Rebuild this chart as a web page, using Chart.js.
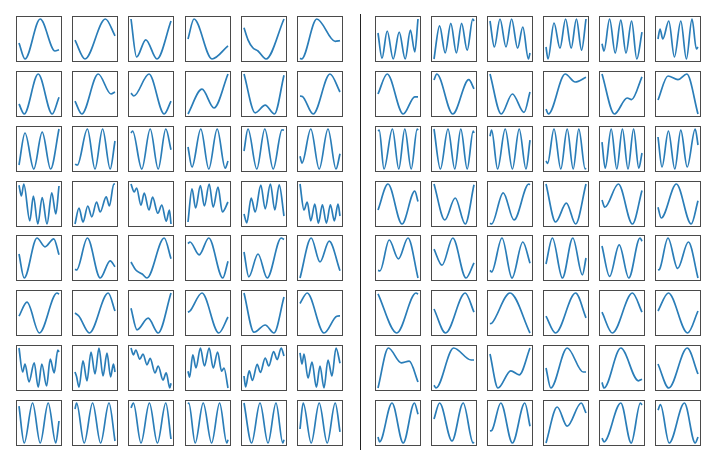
<!DOCTYPE html>
<html>
<head>
<meta charset="utf-8">
<script src="https://cdn.jsdelivr.net/npm/chart.js@4/dist/chart.umd.min.js"></script>
<style>
  html, body { margin: 0; padding: 0; background: #fff; }
  #fig { position: relative; width: 716px; height: 462px; overflow: hidden; }
  .ax { position: absolute; box-sizing: border-box; width: 46px; height: 46px; border: 1px solid #4a4a4a; }
  .ax canvas { display: block; }
  #divider { position: absolute; left: 360px; top: 14px; width: 1px; height: 436px; background: #222; }
</style>
</head>
<body>
<div id="fig"><div id="divider"></div></div>
<script>
// each curve: knots [x, y], x and y normalised to 0..1
// left panel, rows top to bottom
const left1 = [
  [[0,0.4],[0.15,0],[0.53,1],[0.9,0.2],[1,0.23]],
  [[0,0.47],[0.25,0],[0.76,1],[1,0.58]],
  [[0,1],[0.14,0.05],[0.37,0.48],[0.65,0],[1,0.95]],
  [[0,0.5],[0.15,1],[0.6,0],[1,0.33]],
  [[0,0.78],[0.1,0.48],[0.22,0.28],[0.35,0.2],[0.55,0],[1,1]],
  [[0,0.02],[0.04,0],[0.42,1],[0.88,0.44],[1,0.46]]
];
const left2 = [
  [[0,0.25],[0.13,0],[0.48,1],[0.83,0],[1,0.42]],
  [[0,0.32],[0.17,0],[0.58,1],[0.9,0.5],[1,0.55]],
  [[0,0.52],[0.07,0.45],[0.45,1],[0.83,0],[1,0.32]],
  [[0,0],[0.35,0.62],[0.65,0.15],[1,1]],
  [[0,1],[0.28,0.03],[0.53,0.22],[0.76,0],[1,0.97]],
  [[0,0.45],[0.06,0.44],[0.33,0],[0.75,1],[1,0.55]]
];
const left3 = [
  [[0,0.1],[0.15,0.9],[0.37,0],[0.58,0.92],[0.79,0],[1,1]],
  [[0,0.12],[0.06,0.1],[0.31,1],[0.5,0],[0.69,1],[0.88,0],[1,0.7]],
  [[0,0.9],[0.04,0.95],[0.27,0],[0.48,1],[0.68,0],[0.87,1],[1,0.48]],
  [[0,0.55],[0.1,0.05],[0.32,1],[0.52,0],[0.73,1],[0.93,0.02],[1,0.2]],
  [[0,0.45],[0.1,1],[0.32,0],[0.52,1],[0.73,0],[0.95,0.98],[1,0.97]],
  [[0,0.32],[0.05,0.15],[0.27,1],[0.48,0],[0.7,1],[0.9,0],[1,0.38]]
];
const left4 = [
  [[0,0.97],[0.06,0.7],[0.12,1],[0.27,0.08],[0.36,0.7],[0.47,0],[0.58,0.66],[0.7,0],[0.82,0.78],[0.92,0.25],[1,0.95]],
  [[0,0],[0.1,0.4],[0.2,0.05],[0.32,0.45],[0.42,0.18],[0.54,0.55],[0.63,0.3],[0.78,0.68],[0.86,0.45],[0.97,1],[1,1]],
  [[0,1],[0.08,0.8],[0.14,0.9],[0.25,0.47],[0.33,0.77],[0.45,0.35],[0.54,0.67],[0.67,0.27],[0.77,0.47],[0.88,0.07],[0.96,0.35],[1,0]],
  [[0,0.05],[0.1,0.88],[0.19,0.4],[0.31,0.96],[0.41,0.45],[0.53,1],[0.63,0.42],[0.75,0.92],[0.86,0.3],[1,0.55]],
  [[0,0.25],[0.07,0.03],[0.18,0.65],[0.28,0.3],[0.42,0.97],[0.53,0.38],[0.66,1],[0.77,0.35],[0.88,0.98],[1,0.2]],
  [[0,1],[0.1,0.35],[0.18,0.55],[0.27,0.08],[0.37,0.5],[0.46,0.02],[0.56,0.48],[0.66,0.02],[0.76,0.48],[0.86,0.08],[0.95,0.5],[1,0.2]]
];
const left5 = [
  [[0,0.6],[0.13,0],[0.45,1],[0.65,0.78],[0.87,0.98],[1,0.58]],
  [[0,0.22],[0.04,0.2],[0.31,1],[0.63,0],[0.88,0.43],[1,0.28]],
  [[0,0.4],[0.12,0.2],[0.28,0.1],[0.4,0],[0.83,1],[1,0.48]],
  [[0,0.86],[0.05,0.9],[0.28,0.58],[0.52,1],[0.87,0],[1,0.42]],
  [[0,0.65],[0.12,0.03],[0.35,0.6],[0.58,0],[0.93,1],[1,0.96]],
  [[0,0],[0.28,1],[0.5,0.4],[0.73,0.92],[1,0.18]]
];
const left6 = [
  [[0,0.42],[0.2,0.77],[0.51,0],[0.95,1],[1,0.97]],
  [[0,0.5],[0.1,0.42],[0.36,0],[0.83,1],[1,0.55]],
  [[0,0.62],[0.15,0.08],[0.43,0.37],[0.68,0],[1,1]],
  [[0,0.52],[0.05,0.55],[0.35,1],[0.77,0],[1,0.4]],
  [[0,1],[0.25,0.02],[0.53,0.2],[0.75,0],[1,0.9]],
  [[0,0.74],[0.18,1],[0.6,0],[0.92,0.42],[1,0.43]]
];
const left7 = [
  [[0,1],[0.09,0.4],[0.15,0.6],[0.25,0.15],[0.38,0.63],[0.48,0.02],[0.57,0.6],[0.69,0.05],[0.78,0.72],[0.88,0.38],[0.97,0.95],[1,0.9]],
  [[0,0.4],[0.04,0.28],[0.1,0.02],[0.2,0.68],[0.3,0.18],[0.4,0.9],[0.5,0.35],[0.6,1],[0.7,0.3],[0.8,0.87],[0.89,0.28],[0.96,0.6],[1,0.4]],
  [[0,1],[0.06,0.83],[0.12,0.95],[0.22,0.72],[0.3,0.85],[0.4,0.58],[0.48,0.74],[0.6,0.38],[0.68,0.55],[0.8,0.2],[0.88,0.38],[0.97,0],[1,0.12]],
  [[0,0.42],[0.04,0.27],[0.12,0.83],[0.2,0.5],[0.31,1],[0.41,0.55],[0.53,1],[0.63,0.5],[0.74,0.9],[0.84,0.42],[0.9,0.5],[1,0]],
  [[0,0.3],[0.04,0.03],[0.13,0.43],[0.21,0.19],[0.33,0.59],[0.41,0.39],[0.53,0.75],[0.62,0.55],[0.74,0.91],[0.83,0.71],[0.93,1],[1,0.8]],
  [[0,0.88],[0.05,0.6],[0.1,0.85],[0.2,0.25],[0.3,0.65],[0.41,0.02],[0.5,0.55],[0.6,0],[0.7,0.7],[0.8,0.3],[0.9,1],[1,0.62]]
];
const left8 = [
  [[0,0.92],[0.13,0],[0.34,1],[0.53,0],[0.73,1],[0.92,0],[1,0.55]],
  [[0,0.85],[0.04,1],[0.23,0],[0.44,1],[0.64,0],[0.85,1],[1,0.05]],
  [[0,0.88],[0.06,1],[0.25,0],[0.46,1],[0.66,0],[0.87,1],[1,0.1]],
  [[0,0.98],[0.02,1],[0.18,0],[0.38,1],[0.59,0],[0.79,1],[0.97,0],[1,0.08]],
  [[0,1],[0.19,0],[0.4,1],[0.6,0],[0.8,1],[0.97,0],[1,0.08]],
  [[0,0.35],[0.08,1],[0.28,0],[0.48,1],[0.68,0],[0.88,1],[1,0.28]]
];

// right panel, rows top to bottom
const right1 = [
  [[0,0.65],[0.1,0.02],[0.23,0.7],[0.38,0],[0.53,0.67],[0.68,0],[0.81,0.72],[0.92,0.18],[1,1]],
  [[0,0],[0.14,0.83],[0.28,0.15],[0.42,0.89],[0.56,0.15],[0.69,0.89],[0.83,0.22],[0.97,1],[1,0.95]],
  [[0,0.95],[0.11,0.3],[0.25,1],[0.4,0.3],[0.54,1],[0.69,0.27],[0.82,0.8],[0.96,0],[1,0.15]],
  [[0,0.3],[0.05,0],[0.2,0.9],[0.35,0.27],[0.49,1],[0.63,0.27],[0.76,1],[0.89,0.22],[1,1]],
  [[0,0.38],[0.05,0.2],[0.19,1],[0.33,0.15],[0.47,0.97],[0.6,0.15],[0.74,0.95],[0.87,0],[1,0.67]],
  [[0,0.5],[0.05,0.75],[0.12,0.5],[0.27,0.95],[0.41,0.05],[0.57,0.95],[0.71,0],[0.85,1],[0.96,0.25],[1,0.3]]
];
const right2 = [
  [[0,0.5],[0.23,1],[0.63,0],[0.92,0.43],[1,0.43]],
  [[0,0.85],[0.07,1],[0.47,0],[0.87,0.86],[1,0.63]],
  [[0,1],[0.28,0],[0.56,0.5],[0.85,0.04],[1,0.55]],
  [[0,0.12],[0.06,0],[0.48,1],[0.73,0.8],[1,0.92]],
  [[0,1],[0.31,0],[0.63,0.4],[0.74,0.36],[1,0.93]],
  [[0,0.35],[0.25,0.95],[0.5,0.86],[0.72,1],[1,0]]
];
const right3 = [
  [[0,0.95],[0.03,0.97],[0.15,0],[0.36,1],[0.52,0],[0.67,1],[0.83,0],[0.98,1],[1,0.97]],
  [[0,1],[0.16,0],[0.35,1],[0.52,0],[0.67,1],[0.83,0],[0.98,0.95],[1,0.9]],
  [[0,0.82],[0.04,0.97],[0.19,0],[0.38,1],[0.56,0],[0.73,1],[0.9,0],[1,0.72]],
  [[0,0.2],[0.04,0.14],[0.2,1],[0.37,0],[0.53,1],[0.68,0],[0.82,1],[0.98,0],[1,0.02]],
  [[0,0.67],[0.08,0.02],[0.23,1],[0.37,0],[0.51,1],[0.65,0],[0.79,1],[0.92,0.02],[1,0.4]],
  [[0,0.8],[0.1,0.05],[0.26,0.95],[0.42,0],[0.57,0.97],[0.73,0.05],[0.93,1],[1,0.6]]
];
const right4 = [
  [[0,0.35],[0.25,1],[0.6,0],[0.92,0.82],[1,0.56]],
  [[0,1],[0.27,0.1],[0.53,0.65],[0.78,0],[1,0.98]],
  [[0,0.02],[0.04,0],[0.33,0.78],[0.6,0.1],[0.97,1],[1,0.98]],
  [[0,1],[0.24,0.05],[0.51,0.52],[0.74,0],[1,1]],
  [[0,0.6],[0.07,0.42],[0.41,1],[0.76,0],[1,0.84]],
  [[0,0.42],[0.08,0.15],[0.46,1],[0.83,0],[1,0.58]]
];
const right5 = [
  [[0,0.19],[0.05,0.18],[0.28,0.95],[0.51,0.48],[0.75,1],[1,0]],
  [[0,0.72],[0.2,0.32],[0.47,1],[0.8,0],[1,0.38]],
  [[0,0.19],[0.04,0.15],[0.3,1],[0.55,0],[0.82,0.9],[1,0.37]],
  [[0,0.35],[0.16,1],[0.41,0],[0.67,1],[0.91,0.08],[1,0.5]],
  [[0,0.8],[0.19,0.04],[0.43,0.83],[0.67,0],[0.95,1],[1,0.92]],
  [[0,0.2],[0.04,0.22],[0.25,1],[0.49,0.24],[0.76,0.9],[1,0]]
];
const right6 = [
  [[0,0.98],[0.47,0],[0.95,1],[1,0.97]],
  [[0,0.6],[0.29,0],[0.78,1],[1,0.52]],
  [[0,0.23],[0.05,0.25],[0.5,1],[1,0]],
  [[0,0.42],[0.24,0],[0.74,1],[1,0.38]],
  [[0,0.52],[0.26,0],[0.76,1],[1,0.52]],
  [[0,0.55],[0.26,1],[0.74,0],[1,0.55]]
];
const right7 = [
  [[0,0],[0.26,1],[0.58,0.63],[0.78,0.67],[1,0.15]],
  [[0,0.07],[0.05,0],[0.49,1],[0.93,0.7],[1,0.7]],
  [[0,0.85],[0.2,0],[0.52,0.43],[0.73,0.33],[1,1]],
  [[0,0.5],[0.12,0],[0.53,1],[0.93,0.4],[1,0.4]],
  [[0,0.14],[0.05,0],[0.47,1],[0.91,0.18],[1,0.22]],
  [[0,0.6],[0.27,0],[0.73,1],[1,0.35]]
];
const right8 = [
  [[0,0.15],[0.04,0.03],[0.35,1],[0.63,0],[0.91,1],[1,0.72]],
  [[0,0.6],[0.14,1],[0.45,0.05],[0.73,1],[0.98,0],[1,0.02]],
  [[0,0.3],[0.05,0.32],[0.27,1],[0.56,0],[0.87,1],[1,0.42]],
  [[0,0],[0.28,0.9],[0.53,0.42],[0.88,1],[1,0.75]],
  [[0,0.12],[0.05,0.03],[0.47,1],[0.73,0],[0.96,1],[1,0.95]],
  [[0,0.82],[0.06,0.96],[0.28,0],[0.66,1],[0.93,0],[1,0.15]]
];

const leftRows = [left1, left2, left3, left4, left5, left6, left7, left8];
const rightRows = [right1, right2, right3, right4, right5, right6, right7, right8];

const fig = document.getElementById('fig');
const lineColor = '#2a7db8';

function addAxes(left, top, knots) {
  const box = document.createElement('div');
  box.className = 'ax';
  box.style.left = left + 'px';
  box.style.top = top + 'px';
  const cv = document.createElement('canvas');
  cv.width = 44;
  cv.height = 44;
  box.appendChild(cv);
  fig.appendChild(box);

  new Chart(cv, {
    type: 'line',
    data: {
      datasets: [{
        data: knots.map(([x, y]) => ({ x, y })),
        borderColor: lineColor,
        borderWidth: 1.7,
        pointRadius: 0,
        cubicInterpolationMode: 'monotone',
        fill: false
      }]
    },
    options: {
      responsive: false,
      animation: false,
      devicePixelRatio: 1,
      layout: { padding: 0 },
      plugins: { legend: { display: false }, tooltip: { enabled: false } },
      scales: {
        x: { type: 'linear', min: -0.05, max: 1.05, display: false },
        y: { type: 'linear', min: -0.05, max: 1.05, display: false }
      }
    }
  });
}

for (let r = 0; r < 8; r++) {
  const top = Math.round(16 + r * 54.85);
  for (let c = 0; c < 6; c++) {
    addAxes(Math.round(16 + c * 56.2), top, leftRows[r][c]);
    addAxes(Math.round(375 + c * 55.9), top, rightRows[r][c]);
  }
}
</script>
</body>
</html>
